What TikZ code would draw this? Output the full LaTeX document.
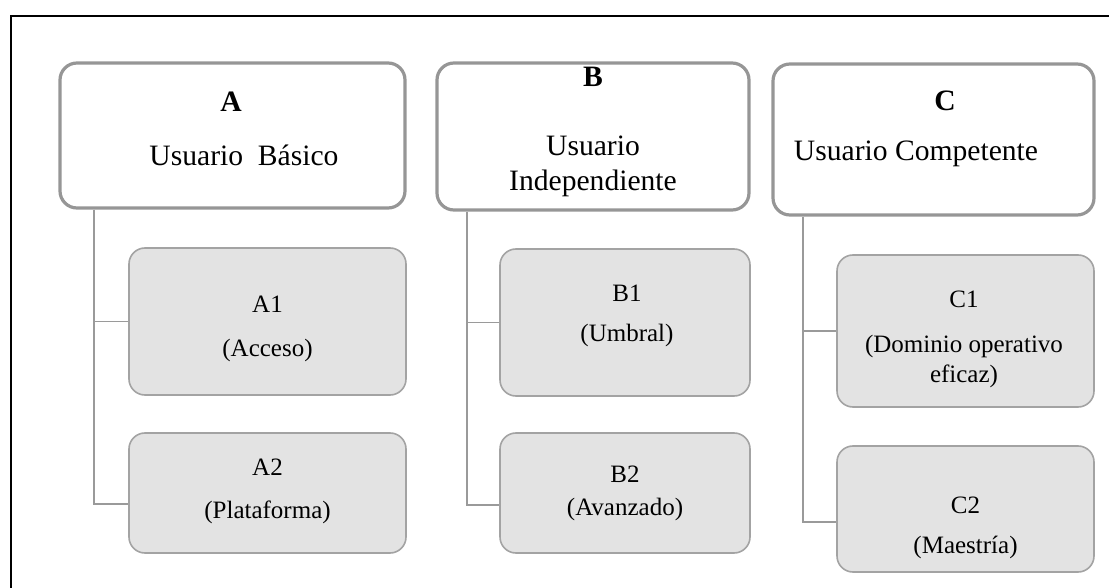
\documentclass[tikz,border=0pt]{standalone}
\usepackage{fontspec}
\setmainfont{Liberation Serif}
\usetikzlibrary{positioning,calc}
\definecolor{HeadLine}{HTML}{969696}
\definecolor{SubLine}{HTML}{A3A3A3}
\definecolor{SubFill}{HTML}{E3E3E3}
\definecolor{LinkLine}{HTML}{9A9A9A}

\begin{document}
\begin{tikzpicture}[x=0.5pt,y=-0.5pt,
		every node/.style={align=center,rectangle,inner sep=0pt},
		nivel/.style={draw=HeadLine,line width=1.6pt,rounded corners=8.5pt,fill=white},
		subnivel/.style={draw=SubLine,line width=0.8pt,rounded corners=8pt,fill=SubFill},
		niveltxt/.style={anchor=base,font=\fontsize{14.8}{17.5}\selectfont},
		subtxt/.style={anchor=base,font=\fontsize{12.5}{15.5}\selectfont},
		link/.style={draw=LinkLine,line width=0.9pt}
	]
	\useasboundingbox (0,0) rectangle (1109,588);
	\draw[line width=1pt] (11,16) rectangle (1140,620);

	% niveles comunes
	\node [nivel,minimum width=172.5pt,minimum height=72.5pt] (A) at (232.5,135.5) {};
	\node [nivel,minimum width=156pt,minimum height=73.5pt] (B) at (593,136.5) {};
	\node [nivel,minimum width=160.5pt,minimum height=75.5pt] (C) at (933.5,139.5) {};

	% subniveles
	\node [subnivel,minimum width=138.5pt,minimum height=73.5pt] (A1) at (267.5,321.5) {};
	\node [subnivel,minimum width=138.5pt,minimum height=60pt] (A2) at (267.5,493) {};
	\node [subnivel,minimum width=125pt,minimum height=73.5pt] (B1) at (625,322.5) {};
	\node [subnivel,minimum width=125pt,minimum height=60pt] (B2) at (625,493) {};
	\node [subnivel,minimum width=128.5pt,minimum height=76pt] (C1) at (965.5,331) {};
	\node [subnivel,minimum width=128.5pt,minimum height=63pt] (C2) at (965.5,509) {};

	% textos
	\node [niveltxt] (tA) at (244,166) {\textbf{A}\hspace*{13pt}\\[9.5pt]Usuario\ \ Básico};
	\node [niveltxt] (tB) at (593,191) {\textbf{B}\\[17pt]Usuario\\Independiente};
	\node [niveltxt] (tC) at (916,161) {\hspace*{29pt}\textbf{C}\\[7.5pt]Usuario Competente};
	\node [subtxt] (tA1) at (267.5,357) {A1\\[6.5pt](Acceso)};
	\node [subtxt] (tA2) at (267.5,518) {A2\\[6pt](Plataforma)};
	\node [subtxt] (tB1) at (627,342) {B1\\[4.5pt](Umbral)};
	\node [subtxt] (tB2) at (625,515) {B2\\[1pt](Avanzado)};
	\node [subtxt] (tC1) at (964,383) {C1\\[7pt](Dominio operativo\\eficaz)};
	\node [subtxt] (tC2) at (965.5,553) {C2\\[4.5pt](Maestría)};

	% conectores
	\coordinate (sA) at ([xshift=-17pt]A1.west);
	\coordinate (sB) at ([xshift=-16pt]B1.west);
	\coordinate (sC) at ([xshift=-16.5pt]C1.west);
	\draw[link] (sA |- A.south) |- ([yshift=-5.5pt]A2.west);
	\draw[link] (sA) -- (A1.west);
	\draw[link] (sB |- B.south) |- ([yshift=-6pt]B2.west);
	\draw[link] (sB) -- (B1.west);
	\draw[link] (sC |- C.south) |- ([yshift=-6.5pt]C2.west);
	\draw[link] (sC) -- (C1.west);
\end{tikzpicture}
\end{document}
